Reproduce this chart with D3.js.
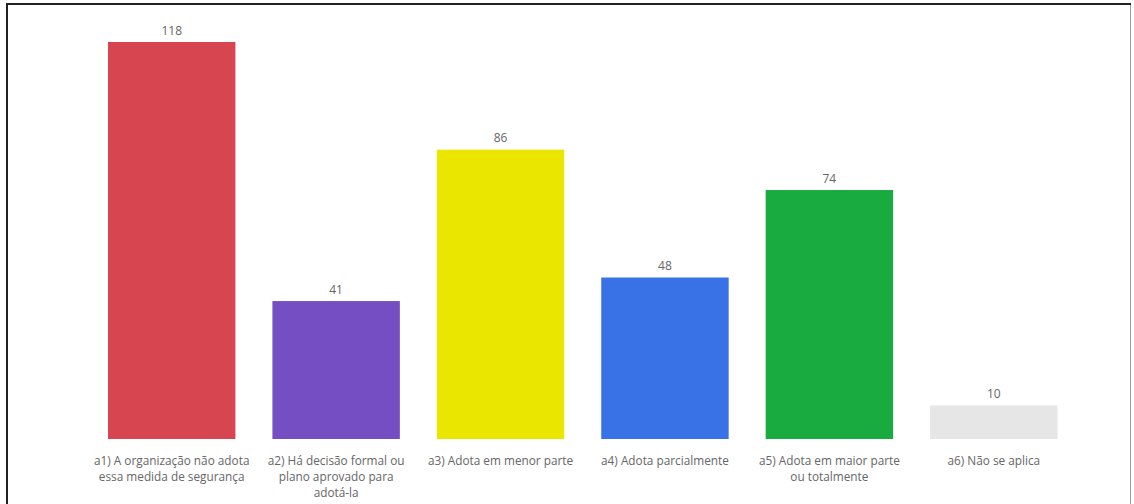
<!DOCTYPE html>
<html><head><meta charset="utf-8">
<script src="https://cdn.jsdelivr.net/npm/d3@7"></script>
<style>
html,body{margin:0;padding:0;background:#fff;}
svg{display:block;}
</style></head>
<body>
<script>
const categories = [
  "a1) A organização não adota\nessa medida de segurança",
  "a2) Há decisão formal ou\nplano aprovado para\nadotá-la",
  "a3) Adota em menor parte",
  "a4) Adota parcialmente",
  "a5) Adota em maior parte\nou totalmente",
  "a6) Não se aplica"
];
const values = [118, 41, 86, 48, 74, 10];
const colors = ["#D64550", "#744EC2", "#EBE600", "#3872E6", "#1AAB40", "#E6E6E6"];

const W = 1134, H = 504;
const svg = d3.select("body").append("svg").attr("width", W).attr("height", H);

// frame
svg.append("rect").attr("x",0).attr("y",0).attr("width",W).attr("height",H).attr("fill","#fff");
svg.append("line").attr("x1",6).attr("x2",1131).attr("y1",4).attr("y2",4).attr("stroke","#222").attr("stroke-width",2);
svg.append("line").attr("x1",7).attr("x2",7).attr("y1",3).attr("y2",H).attr("stroke","#222").attr("stroke-width",2);
svg.append("line").attr("x1",1130.5).attr("x2",1130.5).attr("y1",5).attr("y2",H).attr("stroke","#999").attr("stroke-width",1);

const x = d3.scaleBand().domain(categories).range([89.5, 1076]).paddingInner(0.225).paddingOuter(0.1125);
const y = d3.scaleLinear().domain([0, 118]).range([439, 42]);

const font = "'Segoe UI', 'Open Sans', sans-serif";

svg.selectAll("rect.bar").data(values).join("rect")
  .attr("class","bar")
  .attr("x",(d,i)=>x(categories[i]))
  .attr("width",x.bandwidth())
  .attr("y",d=>y(d))
  .attr("height",d=>y(0)-y(d))
  .attr("fill",(d,i)=>colors[i]);

svg.selectAll("text.val").data(values).join("text")
  .attr("class","val")
  .attr("x",(d,i)=>x(categories[i])+x.bandwidth()/2)
  .attr("y",d=>y(d)-7.5)
  .attr("text-anchor","middle")
  .attr("font-family",font)
  .attr("font-size","12px")
  .attr("fill","#666")
  .text(d=>d);

const xAxis = svg.append("g").attr("transform",`translate(0,${y(0)})`)
  .call(d3.axisBottom(x).tickSize(0).tickFormat(""));
xAxis.select(".domain").remove();
xAxis.selectAll(".tick").each(function(d){
  const g = d3.select(this);
  const t = g.append("text")
    .attr("text-anchor","middle")
    .attr("font-family",font)
    .attr("font-size","11.8px")
    .attr("fill","#666");
  d.split("\n").forEach((ln,k)=>{
    t.append("tspan").attr("x",0).attr("y",26 + k*16).text(ln);
  });
});
</script>
</body></html>
